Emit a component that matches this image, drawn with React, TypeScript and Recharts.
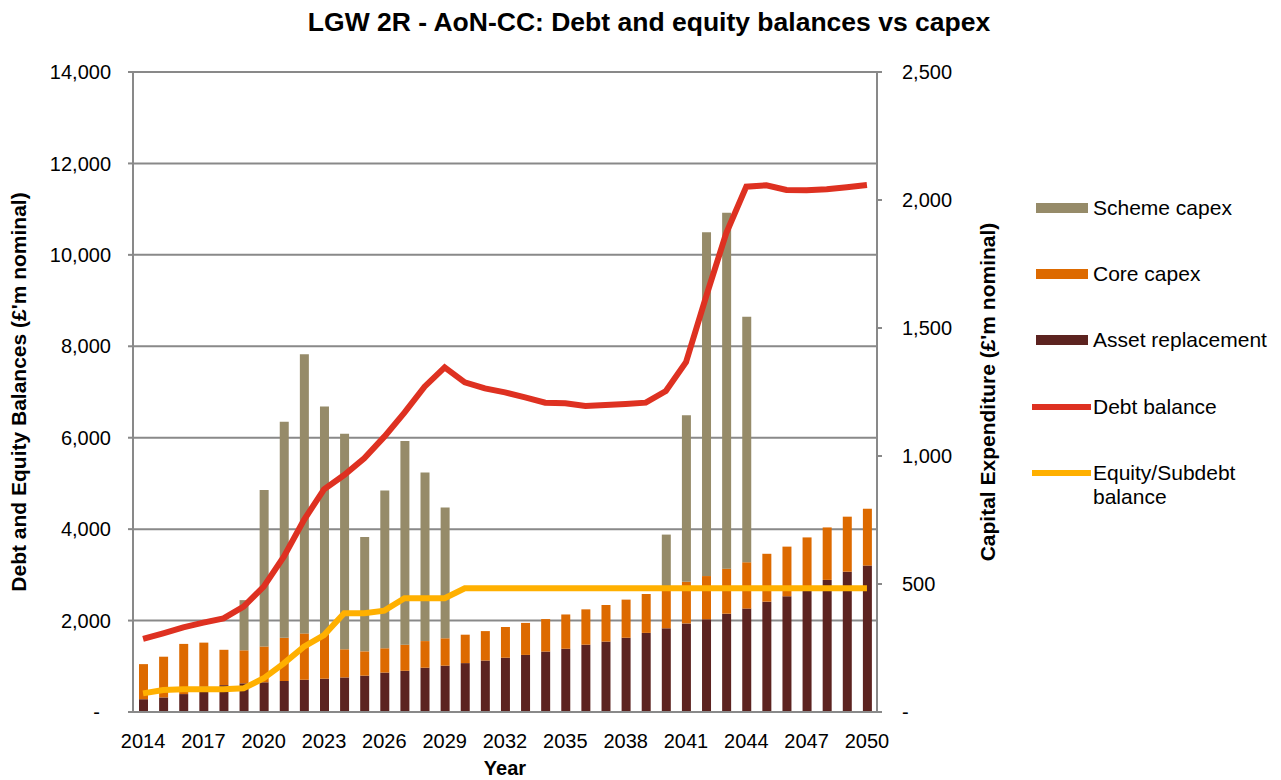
import React from 'react';
import { ComposedChart, Bar, Line, XAxis, YAxis, CartesianGrid, Legend } from 'recharts';

const years = [
  '2014', '2015', '2016', '2017', '2018', '2019', '2020', '2021', '2022', '2023',
  '2024', '2025', '2026', '2027', '2028', '2029', '2030', '2031', '2032', '2033',
  '2034', '2035', '2036', '2037', '2038', '2039', '2040', '2041', '2042', '2043',
  '2044', '2045', '2046', '2047', '2048', '2049', '2050',
];

// Capital expenditure (£'m nominal) – right axis
const assetReplacement = [
  50, 57, 70, 100, 105, 112, 116, 121, 126, 130,
  135, 142, 154, 161, 173, 181, 191, 201, 212, 223,
  236, 247, 263, 275, 290, 309, 327, 346, 362, 384,
  404, 431, 452, 475, 516, 548, 572,
];
const coreCapex = [
  137, 159, 196, 171, 138, 129, 140, 169, 181, 171,
  110, 95, 95, 102, 104, 107, 111, 115, 120, 125,
  127, 134, 138, 143, 149, 152, 165, 163, 169, 176,
  181, 187, 194, 207, 205, 215, 222,
];
const schemeCapex = [
  0, 0, 0, 0, 0, 196, 611, 844, 1090, 892,
  842, 447, 616, 796, 659, 511, 0, 0, 0, 0,
  0, 0, 0, 0, 0, 0, 201, 650, 1343, 1390,
  959, 0, 0, 0, 0, 0, 0,
];

// Balances (£'m nominal) – left axis
const debtBalance = [
  1600, 1721, 1852, 1954, 2049, 2304, 2742, 3398, 4200, 4871,
  5184, 5549, 6023, 6548, 7117, 7540, 7212, 7080, 6993, 6884,
  6767, 6752, 6694, 6716, 6738, 6767, 7020, 7650, 9085, 10471,
  11492, 11521, 11419, 11412, 11433, 11477, 11528,
];
const equityBalance = [
  408, 481, 496, 496, 496, 518, 737, 1065, 1429, 1684,
  2159, 2159, 2217, 2487, 2487, 2487, 2706, 2706, 2706, 2706,
  2706, 2706, 2706, 2706, 2706, 2706, 2706, 2706, 2706, 2706,
  2706, 2706, 2706, 2706, 2706, 2706, 2706,
];

const leftTicks = [0, 2000, 4000, 6000, 8000, 10000, 12000, 14000];
const rightTicks = [0, 500, 1000, 1500, 2000, 2500];
const categoryBoundaries = [
  0, 1, 2, 3, 4, 5, 6, 7, 8, 9, 10, 11, 12, 13, 14, 15, 16, 17, 18, 19,
  20, 21, 22, 23, 24, 25, 26, 27, 28, 29, 30, 31, 32, 33, 34, 35, 36, 37,
];

const data = years.map((year, i) => ({
  year,
  asset: assetReplacement[i],
  core: coreCapex[i],
  scheme: schemeCapex[i],
  debt: debtBalance[i],
  equity: equityBalance[i],
}));

const FONT = '"Liberation Sans", Arial, sans-serif';
const GRID = '#898989';
const C_SCHEME = '#968B69';
const C_CORE = '#DD6A00';
const C_ASSET = '#5C2320';
const C_DEBT = '#DE3121';
const C_EQUITY = '#FFB000';

const fmt = (v: number) => (v === 0 ? '-' : v.toLocaleString('en-US'));

const LeftTick = (props: any) => {
  const { x, y, payload } = props;
  const zero = payload.value === 0;
  return (
    <text x={zero ? x - 11 : x} y={y} dy="0.355em" textAnchor="end" fontSize={20} fill="#000" fontFamily={FONT}>
      {fmt(payload.value)}
    </text>
  );
};

const legendEntries = [
  { name: 'Scheme capex', color: C_SCHEME, kind: 'bar' },
  { name: 'Core capex', color: C_CORE, kind: 'bar' },
  { name: 'Asset replacement', color: C_ASSET, kind: 'bar' },
  { name: 'Debt balance', color: C_DEBT, kind: 'line' },
  { name: 'Equity/Subdebt balance', color: C_EQUITY, kind: 'line' },
];
const legendCenters = [18, 84, 150, 217, 283];

const LegendContent = () => (
  <div style={{ position: 'relative', width: 251, height: 330, fontFamily: FONT, fontSize: 21, color: '#000' }}>
    {legendEntries.map((e, i) => {
      const c = legendCenters[i];
      const isLine = e.kind === 'line';
      const lines = e.name === 'Equity/Subdebt balance' ? ['Equity/Subdebt', 'balance'] : [e.name];
      return (
        <React.Fragment key={e.name}>
          <div
            style={{
              position: 'absolute',
              left: isLine ? 2 : 6,
              top: isLine ? c - 3 : c - 5,
              width: isLine ? 59 : 52,
              height: isLine ? 6 : 10,
              background: e.color,
            }}
          />
          <div style={{ position: 'absolute', left: 63, top: c - 12, lineHeight: '24px', whiteSpace: 'nowrap' }}>
            {lines.map((l) => (
              <div key={l}>{l}</div>
            ))}
          </div>
        </React.Fragment>
      );
    })}
  </div>
);

export default function App() {
  return (
    <div style={{ position: 'absolute', left: 0, top: 0, width: 1281, height: 780, background: '#fff', fontFamily: FONT }}>
      <ComposedChart
        width={1281}
        height={780}
        data={data}
        margin={{ top: 72, right: 284, bottom: 0, left: 0 }}
        barSize={9}
      >
        <CartesianGrid yAxisId="left" xAxisId="cat" vertical={false} stroke={GRID} strokeWidth={2} />
        <XAxis
          xAxisId="ticks"
          type="number"
          domain={[0, 37]}
          allowDataOverflow
          ticks={categoryBoundaries}
          tick={false}
          tickLine={{ stroke: GRID, strokeWidth: 2 }}
          tickSize={5}
          axisLine={false}
          height={0}
        />
        <XAxis
          xAxisId="cat"
          dataKey="year"
          interval={2}
          tickLine={false}
          axisLine={{ stroke: GRID, strokeWidth: 2 }}
          tick={{ fontSize: 20, fill: '#000', fontFamily: FONT }}
          tickMargin={16}
          height={68}
          label={{ value: 'Year', position: 'center', dy: 22, style: { fontSize: 20, fontWeight: 'bold', fill: '#000', fontFamily: FONT } }}
        />
        <YAxis
          yAxisId="left"
          domain={[0, 14000]}
          ticks={leftTicks}
          width={133}
          tick={<LeftTick />}
          tickSize={5}
          tickMargin={17}
          tickLine={{ stroke: GRID, strokeWidth: 2 }}
          axisLine={{ stroke: GRID, strokeWidth: 2 }}
          label={{
            value: "Debt and Equity Balances (£'m nominal)",
            angle: -90,
            position: 'center',
            dx: -48,
            style: { fontSize: 21, fontWeight: 'bold', fill: '#000', fontFamily: FONT },
          }}
        />
        <YAxis
          yAxisId="right"
          orientation="right"
          domain={[0, 2500]}
          ticks={rightTicks}
          width={120}
          tickFormatter={fmt}
          tick={{ fontSize: 20, fill: '#000', fontFamily: FONT, textAnchor: 'start' }}
          tickSize={5}
          tickMargin={20}
          tickLine={{ stroke: GRID, strokeWidth: 2 }}
          axisLine={{ stroke: GRID, strokeWidth: 2 }}
          label={{
            value: "Capital Expenditure (£'m nominal)",
            angle: -90,
            position: 'center',
            dx: 51,
            style: { fontSize: 21, fontWeight: 'bold', fill: '#000', fontFamily: FONT },
          }}
        />
        <Legend
          layout="horizontal"
          align="center"
          verticalAlign="middle"
          content={<LegendContent />}
          wrapperStyle={{ position: 'absolute', left: 1030, top: 190, width: 251, height: 330 }}
        />
        <Bar xAxisId="cat" yAxisId="right" dataKey="asset" name="Asset replacement" stackId="capex" fill={C_ASSET} isAnimationActive={false} />
        <Bar xAxisId="cat" yAxisId="right" dataKey="core" name="Core capex" stackId="capex" fill={C_CORE} isAnimationActive={false} />
        <Bar xAxisId="cat" yAxisId="right" dataKey="scheme" name="Scheme capex" stackId="capex" fill={C_SCHEME} isAnimationActive={false} />
        <Line xAxisId="cat" yAxisId="left" type="linear" dataKey="equity" name="Equity/Subdebt balance" stroke={C_EQUITY} strokeWidth={6} dot={false} activeDot={false} isAnimationActive={false} />
        <Line xAxisId="cat" yAxisId="left" type="linear" dataKey="debt" name="Debt balance" stroke={C_DEBT} strokeWidth={6} dot={false} activeDot={false} isAnimationActive={false} />
      </ComposedChart>
      <div
        style={{
          position: 'absolute',
          top: 7,
          left: 0,
          width: 1298,
          textAlign: 'center',
          fontSize: 26.5,
          fontWeight: 'bold',
          lineHeight: '30px',
          color: '#000',
        }}
      >
        LGW 2R - AoN-CC: Debt and equity balances vs capex
      </div>
    </div>
  );
}
